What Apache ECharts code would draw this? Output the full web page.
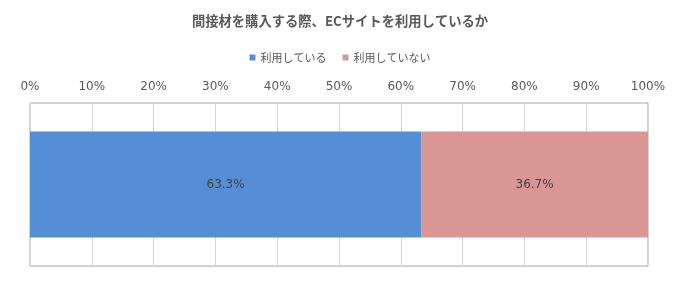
<!DOCTYPE html>
<html><head><meta charset="utf-8">
<script src="https://cdn.jsdelivr.net/npm/echarts@6/dist/echarts.min.js"></script>
<style>html,body{margin:0;padding:0;background:#fff}#c{width:680px;height:290px}</style>
</head><body><div id="c"></div>
<script>
const titleText = '間接材を購入する際、ECサイトを利用しているか';
const categories = [''];
const seriesNames = ['利用している', '利用していない'];
const usingValues = [63.3];
const notUsingValues = [36.7];
const colors = ['#558ED5', '#D99694'];
const font = '"Noto Sans CJK JP", "Noto Sans", sans-serif';
const numFont = '"DejaVu Sans", sans-serif';
const chart = echarts.init(document.getElementById('c'));
chart.setOption({
  animation: false,
  title: {text: titleText, left: 'center', top: 9, textStyle: {fontFamily: font, fontSize: 13.3, fontWeight: 'bold', color: '#595959'}},
  legend: {top: 47, left: 'center', itemWidth: 6, itemHeight: 6, itemGap: 16, icon: 'rect',
    textStyle: {fontFamily: font, fontSize: 11, color: '#595959'}, data: seriesNames},
  grid: {left: 30, right: 32, top: 103, bottom: 24, show: true, borderColor: '#A6A6A6', borderWidth: 1},
  xAxis: {type: 'value', position: 'top', min: 0, max: 100, interval: 10,
    axisLabel: {formatter: '{value}%', fontFamily: numFont, fontSize: 12, color: '#595959', margin: 10},
    axisLine: {show: false}, axisTick: {show: false},
    splitLine: {lineStyle: {color: '#D9D9D9'}}},
  yAxis: {type: 'category', data: categories, axisLine: {show: false}, axisTick: {show: false}, axisLabel: {show: false}},
  series: [
    {name: seriesNames[0], type: 'bar', stack: 't', data: usingValues, barWidth: '65%', itemStyle: {color: colors[0]},
      label: {show: true, position: 'inside', formatter: p => p.value.toFixed(1) + '%', fontFamily: numFont, fontSize: 12, color: '#404040'}},
    {name: seriesNames[1], type: 'bar', stack: 't', data: notUsingValues, barWidth: '65%', itemStyle: {color: colors[1]},
      label: {show: true, position: 'inside', formatter: p => p.value.toFixed(1) + '%', fontFamily: numFont, fontSize: 12, color: '#404040'}}
  ]
});
</script></body></html>
